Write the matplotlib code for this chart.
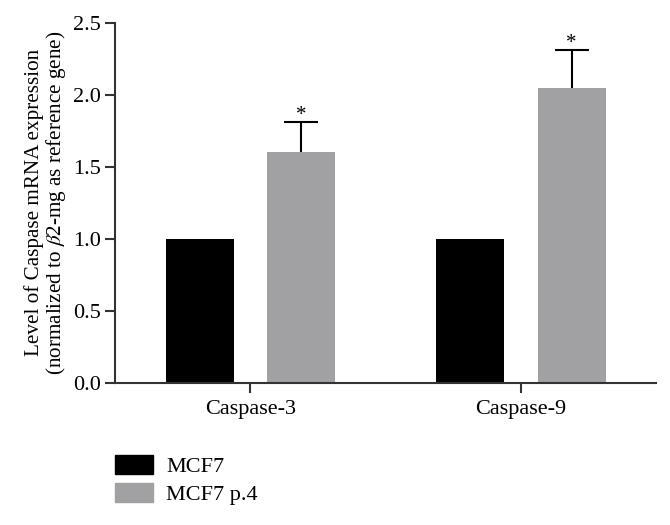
import matplotlib.pyplot as plt
import matplotlib.patches as mpatches
import numpy as np

genes = ['Caspase-3', 'Caspase-9']
mcf7 = [1.0, 1.0]
mcf7_p4 = [1.6, 2.05]
mcf7_p4_err = [0.21, 0.26]
groups = ['MCF7', 'MCF7 p.4']
colors = ['#000000', '#a1a1a4']

plt.rcParams['font.family'] = ['Liberation Serif', 'DejaVu Serif']
plt.rcParams['mathtext.fontset'] = 'stix'

fig = plt.figure(figsize=(6.7, 5.25), dpi=100)
ax = fig.add_axes([0.1716, 0.2705, 0.808, 0.686])

x = np.arange(len(genes))
w = 0.252
off = 0.187

ax.bar(x - off, mcf7, w, color=colors[0], zorder=2)
ax.bar(x + off, mcf7_p4, w, color=colors[1], zorder=2)
eb = ax.errorbar(x + off, mcf7_p4, yerr=[np.zeros(len(genes)), mcf7_p4_err],
                 fmt='none', ecolor='black', elinewidth=1.5, capsize=12.5,
                 capthick=1.5, zorder=1)
# only the upper cap
eb[1][0].set_visible(False)
for xi, v, e in zip(x + off, mcf7_p4, mcf7_p4_err):
    ax.text(xi, v + e - 0.02, '*', ha='center', va='bottom', fontsize=15)

ax.set_xlim(-0.5, 1.5)
ax.set_ylim(0, 2.5)
ax.set_yticks([0, 0.5, 1.0, 1.5, 2.0, 2.5])
ax.set_yticklabels(['0.0', '0.5', '1.0', '1.5', '2.0', '2.5'])
ax.set_xticks(x)
ax.set_xticklabels(genes)
ax.tick_params(axis='both', labelsize=16, width=1.5, length=7, color='#333333')
ax.tick_params(axis='y', pad=3)
ax.tick_params(axis='x', pad=5)

for s in ['top', 'right']:
    ax.spines[s].set_visible(False)
for s in ['left', 'bottom']:
    ax.spines[s].set_linewidth(1.5)
    ax.spines[s].set_color('#333333')

ax.set_ylabel('Level of Caspase mRNA expression\n'
              r'(normalized to $\beta$2-mg as reference gene)',
              fontsize=15.2, labelpad=4, linespacing=1.0)

handles = [mpatches.Patch(color=c, label=g) for c, g in zip(colors, groups)]
fig.legend(handles=handles, loc='upper left', bbox_to_anchor=(115 / 670, 1 - 455 / 525),
           frameon=False, fontsize=16, handlelength=1.7, handleheight=0.95,
           labelspacing=0.25, handletextpad=0.6, borderpad=0, borderaxespad=0)

fig.savefig('out.png', dpi=100)
